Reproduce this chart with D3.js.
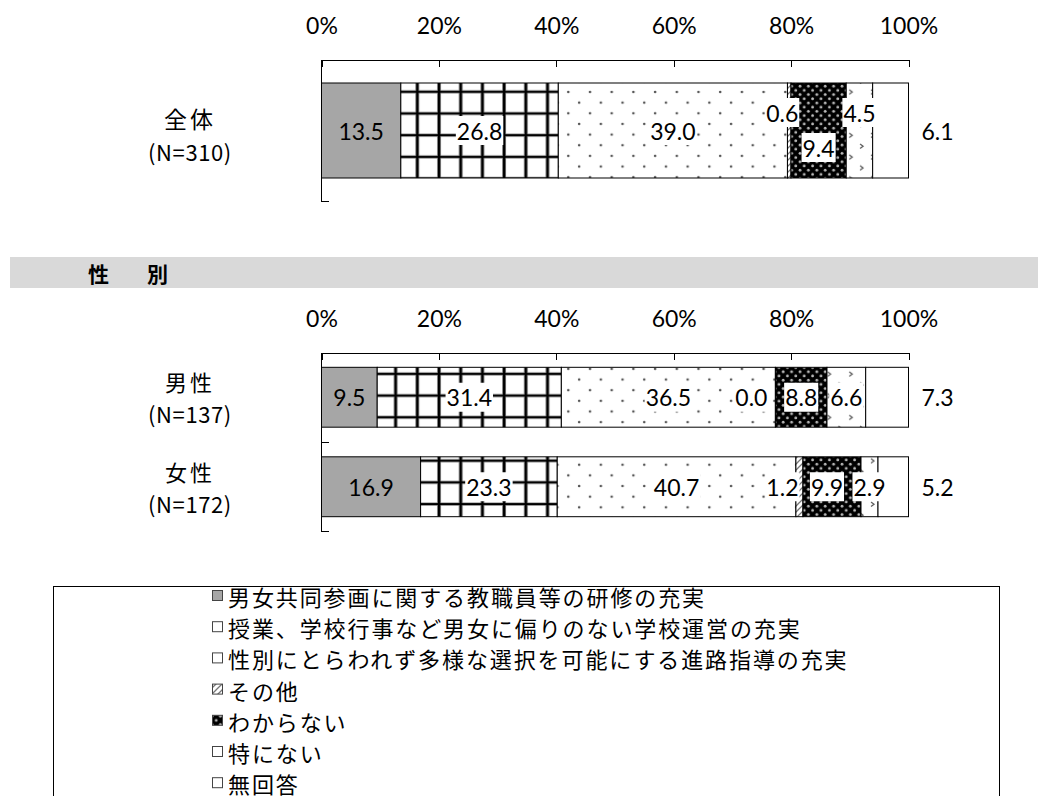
<!DOCTYPE html>
<html><head><meta charset="utf-8">
<script src="https://cdn.jsdelivr.net/npm/d3@7"></script>
<style>body{margin:0;background:#fff} svg{display:block}</style>
</head><body>
<svg id="chart" width="1038" height="796"></svg>
<script>
// ---------- data ----------
const seriesNames = [
  "男女共同参画に関する教職員等の研修の充実",
  "授業、学校行事など男女に偏りのない学校運営の充実",
  "性別にとらわれず多様な選択を可能にする進路指導の充実",
  "その他",
  "わからない",
  "特にない",
  "無回答"
];
const overallCategories = ["全体"];
const overallN = ["(N=310)"];
const overallValues = [13.5, 26.8, 39.0, 0.6, 9.4, 4.5, 6.1];
const genderCategories = ["男性", "女性"];
const genderN = ["(N=137)", "(N=172)"];
const maleValues = [9.5, 31.4, 36.5, 0.0, 8.8, 6.6, 7.3];
const femaleValues = [16.9, 23.3, 40.7, 1.2, 9.9, 2.9, 5.2];
const tickValues = [0, 0.2, 0.4, 0.6, 0.8, 1.0];
const sectionTitle = "性　別";

// label nudges (layout only): category -> series index -> [dx, dy]
const labelNudges = {
  "全体": {3: [-7, -18], 4: [0, 17], 5: [0, -18]},
  "男性": {3: [-24, 0]},
  "女性": {3: [-17, 0], 4: [-5, 0]}
};

// ---------- setup ----------
const svg = d3.select("#chart");
svg.append("rect").attr("width", 1038).attr("height", 796).attr("fill", "#fff");
const defs = svg.append("defs");
const NUM_FONT = "Lato, 'Open Sans', sans-serif";
const JP_FONT = "'Noto Sans CJK JP', 'Noto Sans', sans-serif";

// patterns
const T = 21.7;
{
  const p = defs.append("pattern").attr("id", "pGrid").attr("patternUnits", "userSpaceOnUse")
    .attr("width", T).attr("height", T).attr("x", 0).attr("y", 0);
  p.append("rect").attr("width", T).attr("height", T).attr("fill", "#fff");
  p.append("rect").attr("x", 3.0).attr("y", 0).attr("width", 4.0).attr("height", T).attr("fill", "#9a9a9a");
  p.append("rect").attr("x", 0).attr("y", 3.3).attr("width", T).attr("height", 3.4).attr("fill", "#9a9a9a");
  p.append("rect").attr("x", 3.8).attr("y", 0).attr("width", 2.5).attr("height", T).attr("fill", "#000");
  p.append("rect").attr("x", 0).attr("y", 4).attr("width", T).attr("height", 2).attr("fill", "#000");
}
{
  const h = 21.3;
  const p = defs.append("pattern").attr("id", "pDots").attr("patternUnits", "userSpaceOnUse")
    .attr("width", T).attr("height", h);
  p.append("rect").attr("width", T).attr("height", h).attr("fill", "#fff");
  p.append("circle").attr("cx", 4.1).attr("cy", 6.8).attr("r", 1.3).attr("fill", "#555");
  p.append("circle").attr("cx", 4.1 + T / 2).attr("cy", 6.8 + h / 2).attr("r", 1.3).attr("fill", "#555");
}
{
  const p = defs.append("pattern").attr("id", "pHatch").attr("patternUnits", "userSpaceOnUse")
    .attr("width", 6).attr("height", 6);
  p.append("rect").attr("width", 6).attr("height", 6).attr("fill", "#fff");
  p.append("path").attr("d", "M-1,7L7,-1M-1,1L1,-1M5,7L7,5").attr("stroke", "#777").attr("stroke-width", 1.3);
}
{
  const s = 8.4;
  const p = defs.append("pattern").attr("id", "pBlack").attr("patternUnits", "userSpaceOnUse")
    .attr("width", s).attr("height", s);
  p.append("rect").attr("width", s).attr("height", s).attr("fill", "#000");
  p.append("circle").attr("cx", 2).attr("cy", 2).attr("r", 1.4).attr("fill", "#bbb");
  p.append("circle").attr("cx", 2 + s / 2).attr("cy", 2 + s / 2).attr("r", 1.4).attr("fill", "#bbb");
}
{
  const p = defs.append("pattern").attr("id", "pChev").attr("patternUnits", "userSpaceOnUse")
    .attr("width", T).attr("height", T);
  p.append("rect").attr("width", T).attr("height", T).attr("fill", "#fff");
  p.append("path").attr("d", "M3,3l3,2.2l-3,2.2M13.8,13.8l3,2.2l-3,2.2")
    .attr("fill", "none").attr("stroke", "#555").attr("stroke-width", 1.2);
}
const seriesFill = ["#a6a6a6", "url(#pGrid)", "url(#pDots)", "url(#pHatch)", "url(#pBlack)", "url(#pChev)", "#fff"];
const legendFill = ["#a6a6a6", "#fff", "#fff", "url(#pHatch)", "url(#pBlack)", "#fff", "#fff"];

const x = d3.scaleLinear().domain([0, 1]).range([321.5, 908.5]);

function drawSection(cats, nLabels, rows, yTop, yBottom) {
  const g = svg.append("g");
  const y = d3.scaleBand().domain(cats).range([yTop, yBottom]).paddingInner(0.331).paddingOuter(0.1655);
  const single = cats.length === 1;

  cats.forEach((cat, ci) => {
    const vals = rows[ci];
    const total = d3.sum(vals);
    let cum = 0;
    const segs = vals.map((v, i) => {
      const s = { i, v, start: cum / total, end: (cum + v) / total };
      cum += v;
      return s;
    });
    g.selectAll(null).data(segs).enter().append("rect")
      .attr("x", d => x(d.start))
      .attr("width", d => x(d.end) - x(d.start))
      .attr("y", y(cat))
      .attr("height", y.bandwidth())
      .attr("fill", d => seriesFill[d.i])
      .attr("stroke", "#000").attr("stroke-width", 1);

    const yc = y(cat) + y.bandwidth() / 2;
    segs.forEach(d => {
      const nud = (labelNudges[cat] && labelNudges[cat][d.i]) || [0, 0];
      let lx = (x(d.start) + x(d.end)) / 2 + nud[0];
      if (d.i === seriesNames.length - 1) lx = x(1) + 29;
      const ly = yc + nud[1];
      const lg = g.append("g");
      const t = lg.append("text").attr("x", lx).attr("y", ly)
        .attr("text-anchor", "middle").attr("dominant-baseline", "central")
        .attr("font-family", NUM_FONT).attr("font-size", 23).attr("fill", "#000")
        .text(d3.format(".1f")(d.v));
      if (d.i > 0 && d.i < seriesNames.length - 1) {
        const bb = t.node().getBBox();
        lg.insert("rect", "text").attr("x", bb.x - 1).attr("y", ly - 14.5)
          .attr("width", bb.width + 2).attr("height", 29).attr("fill", "#fff");
      }
    });

    // category labels
    g.append("text").attr("x", 190).attr("y", single ? yc - 13 : yc - 16)
      .attr("text-anchor", "middle").attr("dominant-baseline", "central")
      .attr("font-family", JP_FONT).attr("font-size", single ? 23 : 22).attr("letter-spacing", 3).text(cat);
    g.append("text").attr("x", 190).attr("y", single ? yc + 20 : yc + 16)
      .attr("text-anchor", "middle").attr("dominant-baseline", "central")
      .attr("font-family", JP_FONT).attr("font-size", 22).attr("letter-spacing", 0.6).text(nLabels[ci]);
  });

  const ax = d3.axisTop(x).tickValues(tickValues).tickFormat(d3.format(".0%"))
    .tickSizeInner(-7).tickSizeOuter(-7).tickPadding(26);
  const axG = g.append("g").attr("transform", `translate(0,${yTop})`).call(ax);
  axG.selectAll("path,line").attr("stroke", "#000").attr("shape-rendering", "crispEdges");
  axG.selectAll("text").attr("font-family", NUM_FONT).attr("font-size", 23).attr("fill", "#000");

  g.append("line").attr("x1", x(0)).attr("x2", x(0)).attr("y1", yTop).attr("y2", yBottom)
    .attr("stroke", "#000").attr("shape-rendering", "crispEdges");
  cats.forEach((c, i) => {
    const ty = yTop + y.step() * (i + 1);
    g.append("line").attr("x1", x(0)).attr("x2", x(0) + 7).attr("y1", ty).attr("y2", ty)
      .attr("stroke", "#000").attr("shape-rendering", "crispEdges");
  });
}

drawSection(overallCategories, overallN, [overallValues], 59.5, 201.5);

svg.append("rect").attr("x", 10).attr("y", 257).attr("width", 1028).attr("height", 31).attr("fill", "#d9d9d9");
svg.append("text").attr("x", 88).attr("y", 272.5).attr("dominant-baseline", "central")
  .attr("font-family", JP_FONT).attr("font-weight", "bold").attr("font-size", 21)
  .attr("letter-spacing", 8.5).text(sectionTitle);

drawSection(genderCategories, genderN, [maleValues, femaleValues], 352.5, 531.5);

// legend
svg.append("rect").attr("x", 53.5).attr("y", 586.5).attr("width", 946).attr("height", 300)
  .attr("fill", "none").attr("stroke", "#000").attr("stroke-width", 1);
const lg = svg.append("g");
const rowY = i => 596 + i * 31.2;
lg.selectAll("rect.sw").data(seriesNames).enter().append("rect")
  .attr("x", 212.5).attr("y", (d, i) => rowY(i) - 5.5).attr("width", 10).attr("height", 10)
  .attr("fill", (d, i) => legendFill[i]).attr("stroke", "#444").attr("stroke-width", 1);
lg.selectAll("text").data(seriesNames).enter().append("text")
  .attr("x", 228).attr("y", (d, i) => rowY(i)).attr("dominant-baseline", "central")
  .attr("font-family", JP_FONT).attr("font-size", 22).attr("letter-spacing", 1.9).attr("fill", "#000")
  .text(d => d);
</script>
</body></html>
